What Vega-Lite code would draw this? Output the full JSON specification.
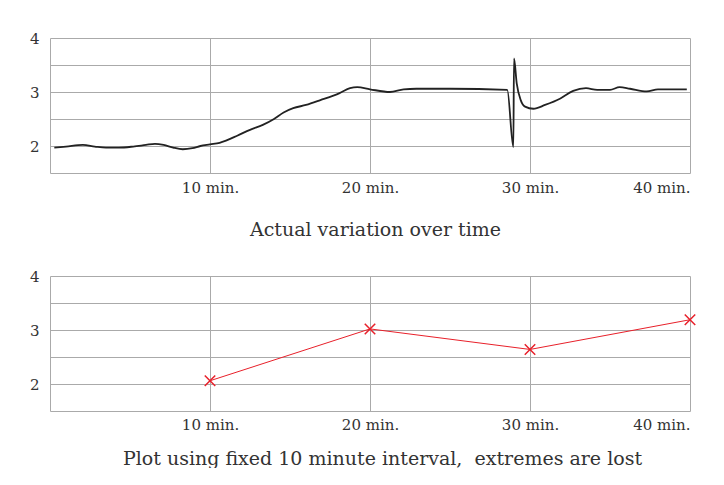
{
  "$schema": "https://vega.github.io/schema/vega-lite/v6.json",
  "padding": {"left": 29, "top": 31, "right": 0, "bottom": 0},
  "spacing": 30,
  "config": {
    "font": "DejaVu Serif",
    "view": {"stroke": null},
    "axis": {
      "grid": true,
      "gridColor": "#aaaaaa",
      "gridWidth": 1,
      "domain": false,
      "ticks": false,
      "labelFont": "DejaVu Serif",
      "labelFontSize": 15,
      "labelColor": "#333333",
      "titleFont": "DejaVu Serif",
      "titleFontWeight": "normal",
      "titleFontSize": 19,
      "titleColor": "#333333"
    }
  },
  "datasets": {
    "actual": [
      {"t": 0.27, "v": 1.97}, {"t": 1.0, "v": 1.99}, {"t": 2.06, "v": 2.02}, {"t": 2.8, "v": 1.99},
      {"t": 3.5, "v": 1.97}, {"t": 4.3, "v": 1.97}, {"t": 5.2, "v": 1.99}, {"t": 6.0, "v": 2.02},
      {"t": 6.56, "v": 2.04}, {"t": 7.1, "v": 2.02}, {"t": 7.7, "v": 1.97}, {"t": 8.3, "v": 1.94},
      {"t": 8.9, "v": 1.96}, {"t": 9.4, "v": 2.0}, {"t": 10.0, "v": 2.03}, {"t": 10.6, "v": 2.06},
      {"t": 11.0, "v": 2.1}, {"t": 11.7, "v": 2.19}, {"t": 12.5, "v": 2.3}, {"t": 13.3, "v": 2.39},
      {"t": 14.0, "v": 2.5}, {"t": 14.6, "v": 2.62}, {"t": 15.2, "v": 2.7}, {"t": 16.0, "v": 2.76},
      {"t": 16.9, "v": 2.85}, {"t": 18.1, "v": 2.98}, {"t": 18.75, "v": 3.07}, {"t": 19.2, "v": 3.09},
      {"t": 20.0, "v": 3.05}, {"t": 21.25, "v": 3.0}, {"t": 22.1, "v": 3.05}, {"t": 22.9, "v": 3.06},
      {"t": 25.0, "v": 3.06}, {"t": 28.58, "v": 3.04}, {"t": 28.96, "v": 1.98}, {"t": 29.0, "v": 3.62},
      {"t": 29.17, "v": 3.16}, {"t": 29.42, "v": 2.85}, {"t": 29.69, "v": 2.73}, {"t": 30.21, "v": 2.69},
      {"t": 30.94, "v": 2.76}, {"t": 31.9, "v": 2.88}, {"t": 32.7, "v": 3.02}, {"t": 33.5, "v": 3.07},
      {"t": 34.2, "v": 3.04}, {"t": 35.0, "v": 3.04}, {"t": 35.6, "v": 3.09}, {"t": 36.25, "v": 3.06},
      {"t": 37.3, "v": 3.01}, {"t": 38.0, "v": 3.05}, {"t": 39.8, "v": 3.05}
    ],
    "sampled": [
      {"t": 10, "v": 2.06}, {"t": 20, "v": 3.02}, {"t": 30, "v": 2.64}, {"t": 40, "v": 3.19}
    ]
  },
  "vconcat": [
    {
      "width": 640,
      "height": 135,
      "data": {"name": "actual"},
      "mark": {"type": "line", "color": "#222222", "strokeWidth": 1.8, "interpolate": "monotone"},
      "encoding": {
        "x": {
          "field": "t", "type": "quantitative",
          "scale": {"domain": [0, 40], "nice": false},
          "axis": {"values": [0, 10, 20, 30, 40], "labelExpr": "datum.value == 0 ? '' : datum.value + ' min.'", "labelPadding": 7, "title": "Actual variation over time", "titlePadding": 25, "titleX": 325}
        },
        "y": {
          "field": "v", "type": "quantitative",
          "scale": {"domain": [1.5, 4], "nice": false},
          "axis": {"values": [1.5, 2, 2.5, 3, 3.5, 4], "labelExpr": "datum.value % 1 == 0 ? format(datum.value, 'd') : ''", "labelPadding": 11, "title": null}
        }
      }
    },
    {
      "width": 640,
      "height": 135,
      "data": {"name": "sampled"},
      "layer": [
        {
          "mark": {"type": "line", "color": "#e8202a", "strokeWidth": 1}
        },
        {
          "mark": {"type": "point", "shape": "M-1,-1L1,1M-1,1L1,-1", "size": 110, "filled": false, "color": "#e8202a", "strokeWidth": 1.5, "opacity": 1}
        }
      ],
      "encoding": {
        "x": {
          "field": "t", "type": "quantitative",
          "scale": {"domain": [0, 40], "nice": false},
          "axis": {"values": [0, 10, 20, 30, 40], "labelExpr": "datum.value == 0 ? '' : datum.value + ' min.'", "labelPadding": 6, "title": "Plot using fixed 10 minute interval,\u00a0 extremes are lost", "titlePadding": 17, "titleX": 332}
        },
        "y": {
          "field": "v", "type": "quantitative",
          "scale": {"domain": [1.5, 4], "nice": false},
          "axis": {"values": [1.5, 2, 2.5, 3, 3.5, 4], "labelExpr": "datum.value % 1 == 0 ? format(datum.value, 'd') : ''", "labelPadding": 11, "title": null}
        }
      }
    }
  ]
}
